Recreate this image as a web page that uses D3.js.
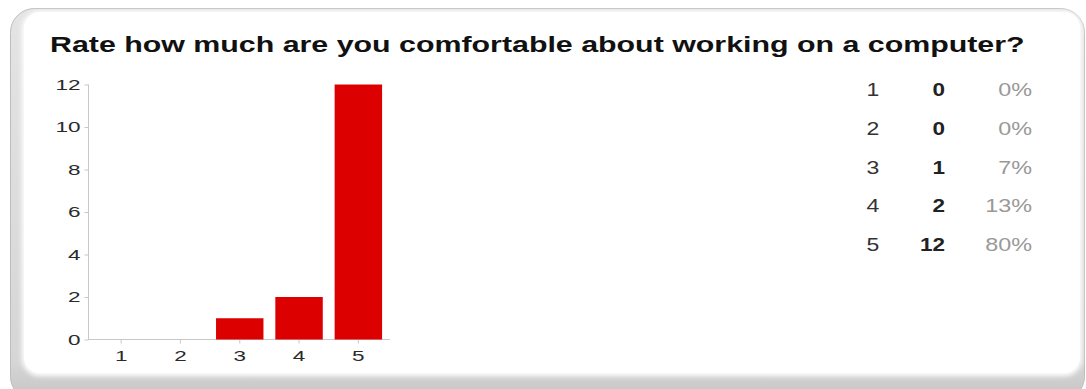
<!DOCTYPE html>
<html>
<head>
<meta charset="utf-8">
<script src="https://cdn.jsdelivr.net/npm/d3@7/dist/d3.min.js"></script>
<style>
  html, body { margin: 0; padding: 0; background: #fff; }
  svg { display: block; font-family: "Liberation Sans", Arial, sans-serif; }
</style>
</head>
<body>
<svg id="chart" width="1086" height="389"></svg>
<script>
// Survey responses
const title = "Rate how much are you comfortable about working on a computer?";
const ratings = ["1", "2", "3", "4", "5"];
const counts = [0, 0, 1, 2, 12];
const percents = ["0%", "0%", "7%", "13%", "80%"];
const yTicks = [0, 2, 4, 6, 8, 10, 12];

const svg = d3.select("#chart");
const defs = svg.append("defs");

// Widened text: place at (x, y) and stretch horizontally
function placeWide(sel, x, y, sx) {
  sel.attr("transform", `translate(${x},${y}) scale(${sx},1)`).attr("x", 0).attr("y", 0);
}

// Card frame: grey bevel behind a white panel
const bevel = defs.append("linearGradient").attr("id", "bevel")
  .attr("x1", 0).attr("y1", 0).attr("x2", 0).attr("y2", 1);
bevel.append("stop").attr("offset", "0%").attr("stop-color", "#e4e4e4");
bevel.append("stop").attr("offset", "90%").attr("stop-color", "#d6d6d6");
bevel.append("stop").attr("offset", "100%").attr("stop-color", "#c4c4c4");
defs.append("filter").attr("id", "soft")
  .attr("x", "-5%").attr("y", "-5%").attr("width", "110%").attr("height", "110%")
  .append("feGaussianBlur").attr("stdDeviation", 2.5);

svg.append("rect")
  .attr("x", 10.5).attr("y", 8.5).attr("width", 1074).attr("height", 392)
  .attr("rx", 24).attr("fill", "url(#bevel)").attr("stroke", "#bdbdbd");
svg.append("rect")
  .attr("x", 22).attr("y", 11).attr("width", 1060).attr("height", 365)
  .attr("rx", 18).attr("fill", "#fff").attr("filter", "url(#soft)");
svg.append("rect")
  .attr("x", 24).attr("y", 12).attr("width", 1056).attr("height", 361)
  .attr("rx", 16).attr("fill", "#fff");

// Title
svg.append("text")
  .attr("font-size", 22).attr("font-weight", "bold").attr("fill", "#111")
  .text(title)
  .call(placeWide, 50, 52, 1.38);

// Bar chart
const x = d3.scaleBand().domain(ratings).range([91.5, 388]).paddingInner(0.2).paddingOuter(0.1);
const y = d3.scaleLinear().domain([0, 12]).range([339.5, 84.5]);

const g = svg.append("g");

const yAxis = g.append("g").attr("transform", "translate(88.5,0)")
  .call(d3.axisLeft(y).tickValues(yTicks).tickSize(4).tickPadding(4));
const xAxis = g.append("g").attr("transform", "translate(0,339.5)")
  .call(d3.axisBottom(x).tickSize(4).tickPadding(7));

[yAxis, xAxis].forEach(a => {
  a.select(".domain").remove();
  a.selectAll(".tick line").attr("stroke", "#c8c8c8");
  a.selectAll(".tick text").attr("font-size", 15).attr("fill", "#2a2a2a")
    .attr("font-family", "Liberation Sans, Arial, sans-serif")
    .each(function () {
      const t = d3.select(this);
      placeWide(t, +t.attr("x") || 0, +t.attr("y") || 0, 1.5);
    });
});

// Axis lines
g.append("line").attr("x1", 88.5).attr("x2", 88.5).attr("y1", y(12)).attr("y2", y(0))
  .attr("stroke", "#c8c8c8");
g.append("line").attr("x1", 88).attr("x2", 390).attr("y1", y(0)).attr("y2", y(0))
  .attr("stroke", "#c8c8c8");

g.selectAll("rect.bar").data(counts).join("rect")
  .attr("class", "bar")
  .attr("x", (d, i) => x(ratings[i]))
  .attr("width", x.bandwidth())
  .attr("y", d => y(d))
  .attr("height", d => y(0) - y(d))
  .attr("fill", "#dc0000");

// Summary table
const row = d3.scaleBand().domain(ratings).range([70, 264]);
const rows = svg.append("g").attr("font-size", 18);
ratings.forEach((r, i) => {
  const cy = row(r) + row.bandwidth() / 2 + 6.5;
  rows.append("text").attr("text-anchor", "middle")
    .attr("fill", "#333").text(r).call(placeWide, 873, cy, 1.28);
  rows.append("text").attr("text-anchor", "end")
    .attr("font-weight", "bold").attr("fill", "#222").text(counts[i]).call(placeWide, 945, cy, 1.25);
  rows.append("text").attr("text-anchor", "end")
    .attr("fill", "#999").text(percents[i]).call(placeWide, 1032, cy, 1.3);
});
</script>
</body>
</html>
